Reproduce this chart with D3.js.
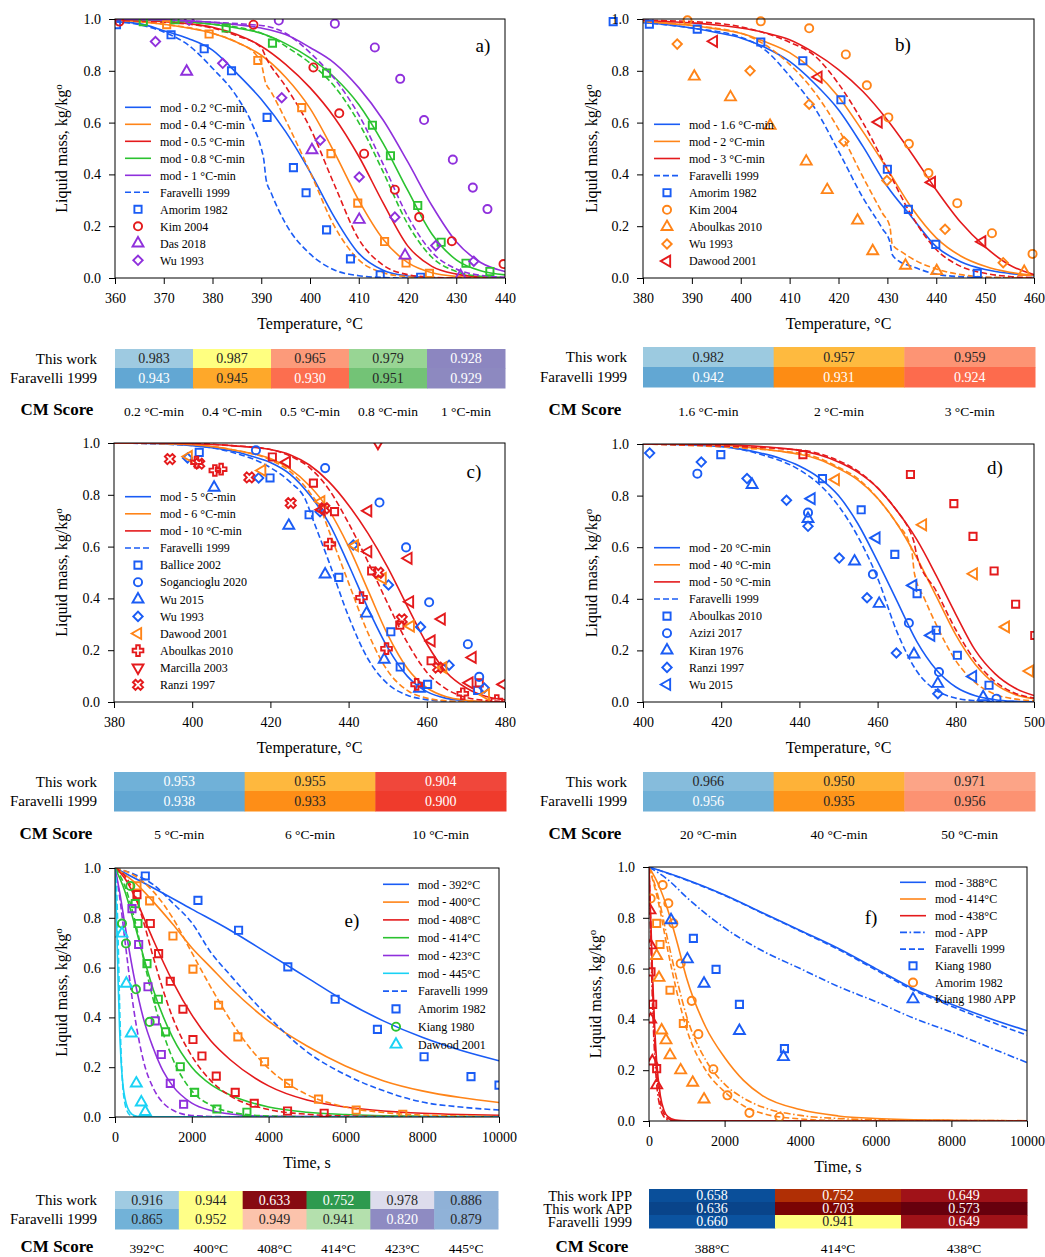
<!DOCTYPE html>
<html>
<head>
<meta charset="utf-8">
<script src="https://cdn.jsdelivr.net/npm/d3@7"></script>
<style>
  body { margin: 0; background: #fff; }
  svg { font-family: "Liberation Serif", "Times New Roman", serif; }
</style>
</head>
<body>
<svg id="chart" width="1045" height="1257"></svg>
<script>
// ---------- panel a : 0.2 - 1 C/min ----------
var aTemp   = [360,365,370,375,380,385,390,395,400,405,410,415,420,425,430,435,440];
var aMod02  = [0.99,0.982,0.955,0.925,0.88,0.79,0.69,0.565,0.41,0.235,0.095,0.03,0.008,0.002,0,0,0];
var aMod04  = [0.995,0.99,0.98,0.965,0.945,0.91,0.86,0.775,0.655,0.485,0.3,0.15,0.06,0.02,0.006,0.002,0];
var aMod05  = [0.997,0.995,0.99,0.982,0.968,0.94,0.895,0.825,0.735,0.62,0.47,0.29,0.125,0.045,0.015,0.005,0.002];
var aMod08  = [1,0.998,0.995,0.99,0.98,0.965,0.945,0.905,0.85,0.775,0.67,0.52,0.34,0.17,0.07,0.028,0.012];
var aMod1   = [1,0.999,0.997,0.993,0.987,0.978,0.965,0.94,0.89,0.83,0.735,0.61,0.45,0.28,0.14,0.06,0.025];
var aFar02  = [[360,0.99],[365,0.978],[370,0.95],[375,0.9],[380,0.81],[385,0.7],[388,0.6],[390,0.5],[390.5,0.46],[391,0.38],[392,0.33],[395,0.21],[400,0.093],[405,0.031],[410,0.009],[415,0.002],[420,0],[440,0]];
var aFar04  = [[360,0.995],[370,0.98],[380,0.945],[385,0.91],[389,0.86],[390,0.83],[390.8,0.76],[392,0.72],[395,0.61],[400,0.41],[405,0.2],[410,0.07],[415,0.02],[420,0.005],[425,0],[440,0]];
var aFar05  = [[360,0.995],[370,0.988],[380,0.965],[385,0.935],[390,0.89],[391,0.85],[395,0.74],[400,0.58],[405,0.36],[410,0.15],[415,0.05],[420,0.013],[425,0.003],[430,0],[440,0]];
var aFar08  = [[360,1],[380,0.98],[390,0.945],[393,0.92],[395,0.895],[400,0.83],[405,0.74],[410,0.6],[415,0.41],[420,0.21],[425,0.08],[430,0.025],[435,0.007],[440,0.002]];
var aFar1   = [[360,1],[390,0.975],[395,0.945],[400,0.87],[405,0.77],[410,0.63],[415,0.44],[420,0.24],[425,0.1],[430,0.035],[435,0.01],[440,0.003]];
var aAmorimBlue   = [[360.3,0.978],[371.5,0.939],[378.3,0.885],[383.9,0.8],[391.2,0.62],[396.6,0.426],[399.2,0.329],[403.4,0.186],[408.3,0.074],[414.4,0.012],[422.7,0.003]];
var aAmorimOrange = [[370.6,0.978],[379.3,0.942],[389.3,0.84],[398.3,0.658],[404.3,0.48],[409.8,0.289],[415.3,0.141],[419.7,0.058],[424.5,0.018]];
var aAmorimGreen  = [[365.8,0.99],[372.3,0.997],[382.8,0.965],[392.3,0.907],[403.4,0.791],[412.8,0.59],[416.5,0.472],[422.1,0.28],[426.9,0.138],[432,0.057],[436.9,0.025]];
var aKimRed       = [[360.9,0.99],[388.4,0.978],[400.7,0.813],[406,0.636],[411.1,0.48],[417.4,0.341],[422.4,0.235],[429.1,0.142],[439.7,0.054]];
var aKimPurple    = [[393.6,0.994],[405.1,0.982],[413.3,0.89],[418.5,0.769],[423.4,0.61],[429.3,0.457],[433.4,0.349],[436.4,0.266]];
var aDasPurple    = [[374.7,0.797],[400.4,0.494],[410.1,0.225],[419.5,0.087],[430.9,0.008]];
var aWuPurple     = [[368.3,0.913],[375.2,0.995],[382.1,0.829],[394.2,0.696],[402.1,0.532],[410.1,0.39],[417.4,0.235],[425.8,0.125],[433.6,0.065]];

// ---------- panel b : 1.6 - 3 C/min ----------
var bTemp   = [380,385,390,395,400,405,410,415,420,425,430,435,440,445,450,455,460];
var bMod16  = [0.987,0.978,0.965,0.948,0.927,0.89,0.836,0.753,0.65,0.508,0.353,0.235,0.121,0.063,0.033,0.018,0.009];
var bMod2   = [0.99,0.983,0.975,0.962,0.945,0.912,0.87,0.8,0.7,0.565,0.42,0.27,0.155,0.085,0.045,0.022,0.011];
var bMod3   = [0.995,0.99,0.985,0.977,0.965,0.947,0.92,0.87,0.805,0.72,0.61,0.48,0.34,0.215,0.12,0.05,0.013];
var bFar16  = [[380,0.987],[390,0.965],[400,0.93],[405,0.88],[410,0.78],[415,0.66],[420,0.49],[425,0.31],[429,0.19],[430.5,0.14],[431,0.09],[432,0.07],[435,0.045],[440,0.015],[445,0.005],[450,0.002],[460,0]];
var bFar2   = [[380,0.99],[390,0.975],[400,0.945],[405,0.9],[410,0.825],[415,0.72],[420,0.575],[425,0.39],[429,0.25],[430.5,0.2],[431,0.13],[433,0.1],[436,0.065],[440,0.035],[445,0.013],[450,0.004],[460,0]];
var bFar3   = [[380,0.995],[390,0.99],[400,0.97],[410,0.91],[415,0.86],[420,0.75],[425,0.6],[430,0.42],[435,0.24],[440,0.11],[445,0.045],[450,0.018],[455,0.006],[460,0.002]];
var bAmorimBlue     = [[373.9,0.99],[381.3,0.98],[391.1,0.961],[404.1,0.911],[412.7,0.839],[420.5,0.688],[430,0.42],[434.3,0.265],[439.9,0.13],[448.4,0.018]];
var bKimOrange      = [[389.1,0.995],[404.1,0.991],[414,0.964],[421.5,0.863],[425.8,0.744],[430.2,0.62],[434.4,0.518],[438.4,0.405],[444.3,0.289],[451.4,0.173],[459.7,0.093]];
var bAboulkasOrange = [[390.5,0.778],[397.9,0.698],[406,0.588],[413.4,0.45],[417.7,0.34],[423.9,0.222],[427,0.104],[433.7,0.048],[440.1,0.027],[458,0.024]];
var bWuOrange       = [[387,0.903],[401.9,0.8],[414,0.671],[421.1,0.527],[429.9,0.376],[441.8,0.188],[453.7,0.059]];
var bDawoodRed      = [[394.5,0.914],[415.9,0.776],[428.2,0.602],[439.1,0.369],[449.4,0.14]];

// ---------- panel c : 5 - 10 C/min ----------
var cTemp   = [380,385,390,395,400,405,410,415,420,425,430,435,440,445,450,455,460,465,470,475,480];
var cMod5   = [1,1,0.998,0.995,0.99,0.982,0.97,0.95,0.925,0.88,0.8,0.69,0.53,0.36,0.21,0.1,0.04,0.014,0.005,0.001,0];
var cMod6   = [1,1,0.999,0.997,0.993,0.986,0.975,0.96,0.94,0.9,0.835,0.74,0.6,0.43,0.26,0.13,0.055,0.02,0.007,0.002,0.001];
var cMod10  = [1,1,1,0.999,0.997,0.994,0.99,0.984,0.975,0.955,0.915,0.85,0.76,0.65,0.52,0.37,0.225,0.115,0.055,0.022,0.008];
var cFar5   = [[380,1],[400,0.99],[410,0.965],[420,0.905],[425,0.85],[429,0.78],[431,0.7],[435,0.54],[440,0.33],[445,0.165],[450,0.07],[455,0.026],[460,0.009],[465,0.003],[470,0],[480,0]];
var cFar6   = [[380,1],[400,0.993],[410,0.975],[420,0.935],[425,0.89],[430,0.81],[433,0.74],[435,0.66],[440,0.46],[445,0.265],[450,0.12],[455,0.045],[460,0.015],[465,0.005],[470,0.001],[480,0]];
var cFar10  = [[380,1],[400,0.998],[410,0.99],[420,0.975],[425,0.95],[430,0.905],[435,0.82],[440,0.69],[445,0.54],[450,0.38],[455,0.23],[460,0.115],[465,0.05],[470,0.018],[475,0.006],[480,0.002]];
var cBalliceBlue  = [[401.8,0.964],[419.9,0.865],[429.9,0.723],[437.5,0.481],[450.8,0.271],[453.2,0.135],[460.2,0.068],[473,0.045]];
var cBalliceRed   = [[420.5,0.946],[431,0.845],[436.4,0.735],[445.9,0.506],[453.1,0.297],[461.1,0.159],[473.4,0.074]];
var cSogancBlue   = [[416.3,0.972],[434,0.903],[447.9,0.77],[454.7,0.597],[460.6,0.385],[470.5,0.223],[473.4,0.097]];
var cWu15Blue     = [[405.6,0.828],[424.7,0.681],[434,0.493],[444.6,0.342],[449.1,0.164],[458.1,0.052]];
var cWu93Blue     = [[398.8,0.942],[417,0.865],[432.7,0.735],[441.2,0.606],[450.2,0.452],[458.4,0.29],[465.7,0.142],[474.7,0.054]];
var cDawoodOrange = [[399.1,0.948],[417.9,0.894],[433,0.774],[441.6,0.604],[448.7,0.477],[455.9,0.293],[464.2,0.133],[475.1,0.028]];
var cDawoodRed    = [[424.2,0.926],[433.1,0.742],[445,0.738],[445,0.581],[455.3,0.555],[455.7,0.387],[461.2,0.236],[463.8,0.32],[471.7,0.172],[470.9,0.074],[479.6,0.068]];
var cAboulkasRed  = [[401.1,0.926],[405.8,0.894],[407.4,0.899],[435.2,0.61],[443.3,0.403],[449.7,0.206],[457.4,0.068],[469.2,0.032],[477.9,0.006]];
var cMarcillaRed  = [[447.5,1.0]];
var cRanziRed     = [[394.3,0.938],[401.8,0.92],[414.6,0.867],[425.2,0.768],[433.8,0.748],[447.6,0.499],[453.6,0.319],[462.9,0.133]];

// ---------- panel d : 20 - 50 C/min ----------
var dTemp   = [400,405,410,415,420,425,430,435,440,445,450,455,460,465,470,475,480,485,490,495,500];
var dMod20  = [1,0.999,0.997,0.994,0.99,0.98,0.965,0.945,0.915,0.87,0.8,0.69,0.545,0.39,0.235,0.125,0.058,0.024,0.009,0.003,0.001];
var dMod40  = [1,1,0.999,0.998,0.996,0.99,0.982,0.972,0.96,0.94,0.905,0.86,0.79,0.69,0.56,0.41,0.26,0.145,0.07,0.03,0.013];
var dMod50  = [1,1,1,0.999,0.998,0.995,0.99,0.984,0.975,0.958,0.93,0.89,0.83,0.74,0.63,0.49,0.34,0.2,0.11,0.055,0.025];
var dFar20  = [[400,1],[420,0.99],[430,0.96],[440,0.9],[445,0.845],[450,0.76],[455,0.64],[460,0.48],[465,0.27],[470,0.12],[475,0.045],[480,0.015],[485,0.005],[490,0.002],[500,0]];
var dFar40  = [[400,1],[440,0.965],[450,0.91],[455,0.865],[460,0.79],[465,0.69],[468,0.62],[468.8,0.58],[469.4,0.5],[472,0.4],[475,0.3],[480,0.16],[485,0.075],[490,0.03],[495,0.012],[500,0.005]];
var dFar50  = [[400,1],[440,0.977],[450,0.935],[455,0.895],[460,0.83],[465,0.74],[468,0.67],[469.3,0.62],[470,0.57],[475,0.43],[480,0.28],[485,0.16],[490,0.08],[495,0.035],[500,0.015]];
var dAboulkasBlue = [[419.9,0.959],[445.9,0.866],[455.8,0.745],[464.4,0.572],[470.1,0.42],[475,0.278],[480.4,0.181],[488.5,0.065]];
var dAboulkasRed  = [[440.9,0.959],[468.4,0.882],[479.5,0.769],[484.4,0.642],[489.8,0.508],[495.3,0.379],[500.2,0.258]];
var dAziziBlue    = [[413.9,0.885],[442.2,0.734],[458.8,0.495],[468,0.306],[475.7,0.116],[490.4,0.013]];
var dKiranBlue    = [[427.9,0.842],[442.2,0.71],[454.1,0.545],[460.4,0.381],[469.3,0.185],[475.4,0.071],[487,0.019]];
var dRanziBlue    = [[401.7,0.965],[414.9,0.93],[426.6,0.866],[436.7,0.782],[442.2,0.681],[450.2,0.558],[457.3,0.404],[464.8,0.19],[475.4,0.032]];
var dWuBlue       = [[443.1,0.788],[459.7,0.636],[469.1,0.452],[473.7,0.258],[484.4,0.099]];
var dWuOrange     = [[449.3,0.862],[471.6,0.687],[484.6,0.497],[492.8,0.291],[498.9,0.12]];

// ---------- panel e : isothermal, time in s ----------
var eMod392 = [[0,1],[1000,0.92],[2000,0.835],[3000,0.75],[4000,0.655],[5000,0.56],[6000,0.465],[7000,0.385],[8000,0.32],[9000,0.268],[10000,0.226]];
var eFar392 = [[0,1],[500,0.975],[1000,0.933],[1500,0.86],[2000,0.78],[2500,0.66],[3000,0.57],[4000,0.402],[5000,0.262],[6000,0.17],[7000,0.105],[8000,0.06],[9000,0.04],[10000,0.028]];
var eMod400 = [[0,1],[500,0.944],[1000,0.864],[1500,0.775],[2000,0.68],[2500,0.6],[3000,0.52],[4000,0.385],[5000,0.285],[6000,0.205],[7000,0.145],[8000,0.105],[9000,0.078],[10000,0.058]];
var eFar400 = [[0,1],[500,0.97],[1000,0.905],[1500,0.8],[2000,0.66],[2500,0.52],[3000,0.39],[3500,0.28],[4000,0.195],[5000,0.09],[6000,0.04],[7000,0.018],[8000,0.008],[10000,0.002]];
var eMod408 = [[0,1],[250,0.96],[500,0.89],[750,0.8],[1000,0.71],[1500,0.545],[2000,0.41],[2500,0.305],[3000,0.23],[4000,0.125],[5000,0.068],[6000,0.04],[7000,0.024],[8000,0.015],[9000,0.01],[10000,0.007]];
var eFar408 = [[0,1],[250,0.97],[500,0.9],[750,0.78],[1000,0.64],[1500,0.4],[2000,0.245],[2500,0.145],[3000,0.085],[4000,0.03],[5000,0.011],[6000,0.004],[8000,0.001],[10000,0]];
var eMod414 = [[0,1],[250,0.91],[500,0.78],[750,0.64],[1000,0.51],[1500,0.32],[2000,0.2],[2500,0.13],[3000,0.088],[4000,0.04],[5000,0.019],[6000,0.01],[8000,0.003],[10000,0.001]];
var eFar414 = [[0,1],[250,0.93],[500,0.8],[750,0.63],[1000,0.47],[1500,0.235],[2000,0.105],[2500,0.047],[3000,0.02],[4000,0.004],[5000,0.001],[10000,0]];
var eMod423 = [[0,1],[125,0.9],[250,0.78],[500,0.56],[750,0.39],[1000,0.275],[1250,0.185],[1500,0.125],[2000,0.056],[2500,0.026],[3000,0.012],[4000,0.003],[10000,0]];
var eFar423 = [[0,1],[125,0.88],[250,0.72],[500,0.42],[750,0.22],[1000,0.115],[1250,0.057],[1500,0.028],[2000,0.006],[3000,0.001],[10000,0]];
var eMod445 = [[0,1],[40,0.8],[80,0.55],[120,0.35],[160,0.22],[200,0.14],[300,0.05],[400,0.018],[500,0.006],[700,0.001],[10000,0]];
var eFar445 = [[0,1],[40,0.92],[80,0.72],[120,0.45],[160,0.25],[200,0.13],[300,0.03],[400,0.007],[600,0],[10000,0]];
var eAmorim392 = [[789,0.968],[2160,0.87],[3218,0.75],[4501,0.603],[5733,0.473],[6834,0.352],[8049,0.242],[9271,0.162],[10000,0.128]];
var eAmorim400 = [[572,0.928],[902,0.868],[1509,0.727],[2030,0.594],[2697,0.449],[3200,0.322],[3894,0.222],[4519,0.135],[5300,0.072],[6280,0.028],[7494,0.011]];
var eAmorim408 = [[572,0.893],[919,0.777],[1136,0.656],[1440,0.545],[1769,0.433],[2030,0.311],[2264,0.245],[2637,0.164],[3131,0.099],[3626,0.055],[4493,0.024],[5447,0.015]];
var eAmorim414 = [[529,0.857],[598,0.777],[833,0.616],[1128,0.473],[1318,0.342],[1700,0.202],[2073,0.099],[2654,0.032],[3435,0.019]];
var eAmorim423 = [[442,0.837],[616,0.693],[859,0.523],[1049,0.386],[1206,0.251],[1440,0.135],[1787,0.051]];
var eKiang414  = [[182,0.777],[286,0.697],[399,0.928],[546,0.513],[902,0.382]];
var eDawood445 = [[182,0.737],[295,0.536],[425,0.336],[555,0.135],[685,0.059],[789,0.021]];

// ---------- panel f : isothermal IPP / APP ----------
var fMod388  = [[0,1],[1000,0.95],[2000,0.89],[3000,0.82],[4000,0.75],[5000,0.68],[6000,0.6],[7000,0.52],[8000,0.46],[9000,0.405],[10000,0.355]];
var fFar388  = [[0,1],[1000,0.948],[2000,0.888],[3000,0.818],[4000,0.748],[5000,0.676],[6000,0.595],[7000,0.515],[8000,0.452],[9000,0.393],[10000,0.338]];
var fApp388  = [[0,1],[500,0.95],[1000,0.88],[2000,0.76],[3000,0.67],[4000,0.6],[5000,0.53],[6000,0.47],[7000,0.405],[8000,0.35],[9000,0.29],[10000,0.23]];
var fMod414  = [[0,1],[250,0.93],[500,0.83],[750,0.7],[1000,0.56],[1500,0.37],[2000,0.25],[2500,0.16],[3000,0.1],[4000,0.045],[5000,0.02],[6000,0.01],[8000,0.003],[10000,0.001]];
var fFar414  = [[0,1],[250,0.86],[500,0.67],[750,0.5],[1000,0.36],[1500,0.2],[2000,0.115],[2500,0.06],[3000,0.03],[4000,0.008],[5000,0.002],[10000,0]];
var fApp414  = [[0,1],[250,0.88],[500,0.71],[750,0.55],[1000,0.41],[1500,0.24],[2000,0.145],[2500,0.09],[3000,0.055],[4000,0.022],[5000,0.01],[6000,0.005],[10000,0.001]];
var fMod438  = [[0,1],[50,0.78],[100,0.55],[150,0.37],[200,0.24],[300,0.1],[400,0.04],[500,0.017],[700,0.004],[1000,0.001],[10000,0]];
var fFar438  = [[0,1],[50,0.75],[100,0.5],[150,0.32],[200,0.2],[300,0.075],[400,0.028],[500,0.01],[700,0.002],[1000,0],[10000,0]];
var fApp438  = [[0,1],[50,0.7],[100,0.43],[150,0.26],[200,0.15],[300,0.05],[400,0.016],[500,0.005],[700,0.001],[1000,0],[10000,0]];
var fKiang388    = [[1174,0.719],[1774,0.597],[2392,0.459],[3583,0.285]];
var fKiang414    = [[203,0.778],[291,0.695],[556,0.515],[909,0.384]];
var fKiang438    = [[53,0.587],[97,0.459],[203,0.206]];
var fAmorim414   = [[44,0.876],[362,0.929],[512,0.857],[644,0.778],[838,0.62],[1130,0.473],[1306,0.342],[1703,0.204],[2074,0.101],[2657,0.032],[3451,0.016]];
var fKiangApp388 = [[583,0.791],[1015,0.637],[1456,0.541],[2392,0.355],[3557,0.252]];
var fKiangApp414 = [[203,0.65],[265,0.564],[335,0.357],[450,0.318],[556,0.259],[838,0.2],[1156,0.151],[1456,0.085]];
var fKiangApp438 = [[26,0.83],[44,0.692],[44,0.4],[88,0.235],[203,0.141]];

// ---------- CM score tables ----------
var aRateLabels = ["0.2 °C-min","0.4 °C-min","0.5 °C-min","0.8 °C-min","1 °C-min"];
var aScoreThis  = [0.983,0.987,0.965,0.979,0.928];
var aScoreFar   = [0.943,0.945,0.930,0.951,0.929];
var bRateLabels = ["1.6 °C-min","2 °C-min","3 °C-min"];
var bScoreThis  = [0.982,0.957,0.959];
var bScoreFar   = [0.942,0.931,0.924];
var cRateLabels = ["5 °C-min","6 °C-min","10 °C-min"];
var cScoreThis  = [0.953,0.955,0.904];
var cScoreFar   = [0.938,0.933,0.900];
var dRateLabels = ["20 °C-min","40 °C-min","50 °C-min"];
var dScoreThis  = [0.966,0.950,0.971];
var dScoreFar   = [0.956,0.935,0.956];
var eTempLabels = ["392°C","400°C","408°C","414°C","423°C","445°C"];
var eScoreThis  = [0.916,0.944,0.633,0.752,0.978,0.886];
var eScoreFar   = [0.865,0.952,0.949,0.941,0.820,0.879];
var fTempLabels = ["388°C","414°C","438°C"];
var fScoreIPP   = [0.658,0.752,0.649];
var fScoreAPP   = [0.636,0.703,0.573];
var fScoreFar   = [0.660,0.941,0.649];

// cell colours (style only)
var aFill = [["#9ecae1","#ffff80","#fc9a7a","#98d594","#8c86c0"],["#62a7d3","#fea82a","#fc6e4f","#73c376","#8d89c0"]];
var aInk  = [["d","d","d","d","w"],["w","d","w","d","w"]];
var bFill = [["#9ccae0","#feba3f","#fd9474"],["#62a7d3","#fd8c14","#fd6b4d"]];
var bInk  = [["d","d","d"],["w","w","w"]];
var cFill = [["#70b1d8","#feb83e","#f0473b"],["#62a7d3","#fe8e17","#ef3b2c"]];
var cInk  = [["w","d","w"],["w","d","w"]];
var dFill = [["#86bcdc","#feb238","#fca487"],["#6fb0d7","#fe951a","#fc9272"]];
var dInk  = [["d","d","d"],["w","d","d"]];
var eFill = [["#a0cbe2","#ffff88","#870a12","#2e9a4e","#dddcec","#8fb1d7"],["#72b2d8","#ffff88","#fcc3ac","#b4e0ad","#8e8bc2","#90b2d8"]];
var eInk  = [["d","d","w","w","d","d"],["d","d","d","d","w","d"]];
var fFill = [["#0a4f9a","#b02f05","#a01218"],["#09448a","#7a0404","#67000d"],["#0b53a0","#ffff80","#a01218"]];
var fInk  = [["w","w","w"],["w","w","w"],["w","d","w"]];

var BLUE = "#1a5cf5", ORANGE = "#ff8418", RED = "#e41a1c", GREEN = "#2bc230",
    PURPLE = "#8f30dc", CYAN = "#1ad2f5";
var DASH = "6,3", DASHDOT = "7,2.5,1.6,2.5";

var svg = d3.select("#chart");

var SHAPES = {
  square:  {type: d3.symbolSquare,   size: 52, rot: 0},
  circle:  {type: d3.symbolCircle,   size: 52, rot: 0},
  triUp:   {type: d3.symbolTriangle, size: 52, rot: 0},
  triDown: {type: d3.symbolTriangle, size: 52, rot: 180},
  triLeft: {type: d3.symbolTriangle, size: 52, rot: -90},
  diamond: {type: d3.symbolSquare,   size: 44, rot: 45},
  plus:    {type: d3.symbolCross,    size: 64, rot: 0},
  cross:   {type: d3.symbolCross,    size: 64, rot: 45}
};

function addMarker(g, shape, cx, cy, color) {
  var s = SHAPES[shape];
  g.append("path")
    .attr("d", d3.symbol(s.type, s.size)())
    .attr("transform", "translate(" + cx + "," + cy + ") rotate(" + s.rot + ")")
    .attr("fill", "none")
    .attr("stroke", color)
    .attr("stroke-width", 1.9);
}

var panels = [
  {id: "a", left: 115, right: 505, top: 19, bottom: 278, xdom: [360, 440], xticks: d3.range(360, 441, 10),
   xlabel: "Temperature, °C", ylabelX: 67, tag: "a)", tagX: 483, tagY: 45, clip: true,
   curves: [
     {x: aTemp, y: aMod02, color: BLUE}, {x: aTemp, y: aMod04, color: ORANGE}, {x: aTemp, y: aMod05, color: RED},
     {x: aTemp, y: aMod08, color: GREEN}, {x: aTemp, y: aMod1, color: PURPLE},
     {pts: aFar02, color: BLUE, dash: DASH}, {pts: aFar04, color: ORANGE, dash: DASH}, {pts: aFar05, color: RED, dash: DASH},
     {pts: aFar08, color: GREEN, dash: DASH}, {pts: aFar1, color: PURPLE, dash: DASH}],
   points: [
     {data: aAmorimBlue, shape: "square", color: BLUE}, {data: aAmorimOrange, shape: "square", color: ORANGE},
     {data: aAmorimGreen, shape: "square", color: GREEN}, {data: aKimRed, shape: "circle", color: RED},
     {data: aKimPurple, shape: "circle", color: PURPLE}, {data: aDasPurple, shape: "triUp", color: PURPLE},
     {data: aWuPurple, shape: "diamond", color: PURPLE}],
   legendX: 125, legendY: 107.3, legendDy: 17,
   legend: [
     {color: BLUE, label: "mod - 0.2 °C-min"}, {color: ORANGE, label: "mod - 0.4 °C-min"},
     {color: RED, label: "mod - 0.5 °C-min"}, {color: GREEN, label: "mod - 0.8 °C-min"},
     {color: PURPLE, label: "mod - 1 °C-min"}, {color: BLUE, dash: DASH, label: "Faravelli 1999"},
     {shape: "square", color: BLUE, label: "Amorim 1982"}, {shape: "circle", color: RED, label: "Kim 2004"},
     {shape: "triUp", color: PURPLE, label: "Das 2018"}, {shape: "diamond", color: PURPLE, label: "Wu 1993"}]},
  {id: "b", left: 643, right: 1034, top: 19, bottom: 278, xdom: [380, 460], xticks: d3.range(380, 461, 10),
   xlabel: "Temperature, °C", ylabelX: 597, tag: "b)", tagX: 903, tagY: 44, clip: false,
   curves: [
     {x: bTemp, y: bMod16, color: BLUE}, {x: bTemp, y: bMod2, color: ORANGE}, {x: bTemp, y: bMod3, color: RED},
     {pts: bFar16, color: BLUE, dash: DASH}, {pts: bFar2, color: ORANGE, dash: DASH}, {pts: bFar3, color: RED, dash: DASH}],
   points: [
     {data: bAmorimBlue, shape: "square", color: BLUE}, {data: bKimOrange, shape: "circle", color: ORANGE},
     {data: bAboulkasOrange, shape: "triUp", color: ORANGE}, {data: bWuOrange, shape: "diamond", color: ORANGE},
     {data: bDawoodRed, shape: "triLeft", color: RED}],
   legendX: 654, legendY: 124.3, legendDy: 17.1,
   legend: [
     {color: BLUE, label: "mod - 1.6 °C-min"}, {color: ORANGE, label: "mod - 2 °C-min"},
     {color: RED, label: "mod - 3 °C-min"}, {color: BLUE, dash: DASH, label: "Faravelli 1999"},
     {shape: "square", color: BLUE, label: "Amorim 1982"}, {shape: "circle", color: ORANGE, label: "Kim 2004"},
     {shape: "triUp", color: ORANGE, label: "Aboulkas 2010"}, {shape: "diamond", color: ORANGE, label: "Wu 1993"},
     {shape: "triLeft", color: RED, label: "Dawood 2001"}]},
  {id: "c", left: 114, right: 505, top: 443, bottom: 702, xdom: [380, 480], xticks: d3.range(380, 481, 20),
   xlabel: "Temperature, °C", ylabelX: 67, tag: "c)", tagX: 474, tagY: 471, clip: true,
   curves: [
     {x: cTemp, y: cMod5, color: BLUE}, {x: cTemp, y: cMod6, color: ORANGE}, {x: cTemp, y: cMod10, color: RED},
     {pts: cFar5, color: BLUE, dash: DASH}, {pts: cFar6, color: ORANGE, dash: DASH}, {pts: cFar10, color: RED, dash: DASH}],
   points: [
     {data: cBalliceBlue, shape: "square", color: BLUE}, {data: cBalliceRed, shape: "square", color: RED},
     {data: cSogancBlue, shape: "circle", color: BLUE}, {data: cWu15Blue, shape: "triUp", color: BLUE},
     {data: cWu93Blue, shape: "diamond", color: BLUE}, {data: cDawoodOrange, shape: "triLeft", color: ORANGE},
     {data: cDawoodRed, shape: "triLeft", color: RED}, {data: cAboulkasRed, shape: "plus", color: RED},
     {data: cMarcillaRed, shape: "triDown", color: RED}, {data: cRanziRed, shape: "cross", color: RED}],
   legendX: 125, legendY: 496.7, legendDy: 17.1,
   legend: [
     {color: BLUE, label: "mod - 5 °C-min"}, {color: ORANGE, label: "mod - 6 °C-min"},
     {color: RED, label: "mod - 10 °C-min"}, {color: BLUE, dash: DASH, label: "Faravelli 1999"},
     {shape: "square", color: BLUE, label: "Ballice 2002"}, {shape: "circle", color: BLUE, label: "Sogancioglu 2020"},
     {shape: "triUp", color: BLUE, label: "Wu 2015"}, {shape: "diamond", color: BLUE, label: "Wu 1993"},
     {shape: "triLeft", color: ORANGE, label: "Dawood 2001"}, {shape: "plus", color: RED, label: "Aboulkas 2010"},
     {shape: "triDown", color: RED, label: "Marcilla 2003"}, {shape: "cross", color: RED, label: "Ranzi 1997"}]},
  {id: "d", left: 643, right: 1034, top: 444, bottom: 702, xdom: [400, 500], xticks: d3.range(400, 501, 20),
   xlabel: "Temperature, °C", ylabelX: 597, tag: "d)", tagX: 995, tagY: 467, clip: true,
   curves: [
     {x: dTemp, y: dMod20, color: BLUE}, {x: dTemp, y: dMod40, color: ORANGE}, {x: dTemp, y: dMod50, color: RED},
     {pts: dFar20, color: BLUE, dash: DASH}, {pts: dFar40, color: ORANGE, dash: DASH}, {pts: dFar50, color: RED, dash: DASH}],
   points: [
     {data: dAboulkasBlue, shape: "square", color: BLUE}, {data: dAboulkasRed, shape: "square", color: RED},
     {data: dAziziBlue, shape: "circle", color: BLUE}, {data: dKiranBlue, shape: "triUp", color: BLUE},
     {data: dRanziBlue, shape: "diamond", color: BLUE}, {data: dWuBlue, shape: "triLeft", color: BLUE},
     {data: dWuOrange, shape: "triLeft", color: ORANGE}],
   legendX: 654, legendY: 547.7, legendDy: 17.1,
   legend: [
     {color: BLUE, label: "mod - 20 °C-min"}, {color: ORANGE, label: "mod - 40 °C-min"},
     {color: RED, label: "mod - 50 °C-min"}, {color: BLUE, dash: DASH, label: "Faravelli 1999"},
     {shape: "square", color: BLUE, label: "Aboulkas 2010"}, {shape: "circle", color: BLUE, label: "Azizi 2017"},
     {shape: "triUp", color: BLUE, label: "Kiran 1976"}, {shape: "diamond", color: BLUE, label: "Ranzi 1997"},
     {shape: "triLeft", color: BLUE, label: "Wu 2015"}]},
  {id: "e", left: 115, right: 499, top: 868, bottom: 1117, xdom: [0, 10000], xticks: d3.range(0, 10001, 2000),
   xlabel: "Time, s", ylabelX: 67, tag: "e)", tagX: 352, tagY: 920, clip: true,
   curves: [
     {pts: eMod392, color: BLUE}, {pts: eMod400, color: ORANGE}, {pts: eMod408, color: RED},
     {pts: eMod414, color: GREEN}, {pts: eMod423, color: PURPLE}, {pts: eMod445, color: CYAN},
     {pts: eFar392, color: BLUE, dash: DASH}, {pts: eFar400, color: ORANGE, dash: DASH}, {pts: eFar408, color: RED, dash: DASH},
     {pts: eFar414, color: GREEN, dash: DASH}, {pts: eFar423, color: PURPLE, dash: DASH}, {pts: eFar445, color: CYAN, dash: DASH}],
   points: [
     {data: eAmorim392, shape: "square", color: BLUE}, {data: eAmorim400, shape: "square", color: ORANGE},
     {data: eAmorim408, shape: "square", color: RED}, {data: eAmorim414, shape: "square", color: GREEN},
     {data: eAmorim423, shape: "square", color: PURPLE}, {data: eKiang414, shape: "circle", color: GREEN},
     {data: eDawood445, shape: "triUp", color: CYAN}],
   legendX: 383, legendY: 884.3, legendDy: 17.8,
   legend: [
     {color: BLUE, label: "mod - 392°C"}, {color: ORANGE, label: "mod - 400°C"}, {color: RED, label: "mod - 408°C"},
     {color: GREEN, label: "mod - 414°C"}, {color: PURPLE, label: "mod - 423°C"}, {color: CYAN, label: "mod - 445°C"},
     {color: BLUE, dash: DASH, label: "Faravelli 1999"}, {shape: "square", color: BLUE, label: "Amorim 1982"},
     {shape: "circle", color: GREEN, label: "Kiang 1980"}, {shape: "triUp", color: CYAN, label: "Dawood 2001"}]},
  {id: "f", left: 649, right: 1027, top: 867, bottom: 1121, xdom: [0, 10000], xticks: d3.range(0, 10001, 2000),
   xlabel: "Time, s", ylabelX: 601, tag: "f)", tagX: 871, tagY: 917, clip: true,
   curves: [
     {pts: fMod388, color: BLUE}, {pts: fMod414, color: ORANGE}, {pts: fMod438, color: RED},
     {pts: fApp388, color: BLUE, dash: DASHDOT}, {pts: fApp414, color: ORANGE, dash: DASHDOT}, {pts: fApp438, color: RED, dash: DASHDOT},
     {pts: fFar388, color: BLUE, dash: DASH}, {pts: fFar414, color: ORANGE, dash: DASH}, {pts: fFar438, color: RED, dash: DASH}],
   points: [
     {data: fKiang388, shape: "square", color: BLUE}, {data: fKiang414, shape: "square", color: ORANGE},
     {data: fKiang438, shape: "square", color: RED}, {data: fAmorim414, shape: "circle", color: ORANGE},
     {data: fKiangApp388, shape: "triUp", color: BLUE}, {data: fKiangApp414, shape: "triUp", color: ORANGE},
     {data: fKiangApp438, shape: "triUp", color: RED}],
   legendX: 900, legendY: 882.3, legendDy: 16.7,
   legend: [
     {color: BLUE, label: "mod - 388°C"}, {color: ORANGE, label: "mod - 414°C"}, {color: RED, label: "mod - 438°C"},
     {color: BLUE, dash: DASHDOT, label: "mod - APP"}, {color: BLUE, dash: DASH, label: "Faravelli 1999"},
     {shape: "square", color: BLUE, label: "Kiang 1980"}, {shape: "circle", color: ORANGE, label: "Amorim 1982"},
     {shape: "triUp", color: BLUE, label: "Kiang 1980 APP"}]}
];

function drawPanel(p) {
  var x = d3.scaleLinear().domain(p.xdom).range([p.left, p.right]);
  var y = d3.scaleLinear().domain([0, 1]).range([p.bottom, p.top]);
  var clipId = "clip-" + p.id;
  svg.append("clipPath").attr("id", clipId).append("rect")
    .attr("x", p.left).attr("y", p.top)
    .attr("width", p.right - p.left).attr("height", p.bottom - p.top);

  var g = svg.append("g");
  var line = d3.line().x(function(d) { return x(d[0]); }).y(function(d) { return y(d[1]); })
    .curve(d3.curveMonotoneX);

  var curveLayer = g.append("g").attr("clip-path", "url(#" + clipId + ")");
  p.curves.forEach(function(c) {
    var pts = c.pts || c.x.map(function(t, i) { return [t, c.y[i]]; });
    curveLayer.append("path")
      .attr("d", line(pts))
      .attr("fill", "none")
      .attr("stroke", c.color)
      .attr("stroke-width", 1.6)
      .attr("stroke-dasharray", c.dash || null);
  });

  var pointLayer = g.append("g");
  if (p.clip) pointLayer.attr("clip-path", "url(#" + clipId + ")");
  p.points.forEach(function(s) {
    s.data.forEach(function(d) { addMarker(pointLayer, s.shape, x(d[0]), y(d[1]), s.color); });
  });

  // axes
  var xa = g.append("g").attr("transform", "translate(0," + p.bottom + ")")
    .call(d3.axisBottom(x).tickValues(p.xticks).tickSize(6).tickPadding(9).tickFormat(d3.format("d")));
  var ya = g.append("g").attr("transform", "translate(" + p.left + ",0)")
    .call(d3.axisLeft(y).tickValues([0, 0.2, 0.4, 0.6, 0.8, 1.0]).tickSize(6).tickPadding(8).tickFormat(d3.format(".1f")));
  [xa, ya].forEach(function(a) {
    a.attr("font-family", null).attr("font-size", 14);
    a.select(".domain").remove();
  });
  g.append("rect")
    .attr("x", p.left).attr("y", p.top)
    .attr("width", p.right - p.left).attr("height", p.bottom - p.top)
    .attr("fill", "none").attr("stroke", "#000").attr("stroke-width", 1);

  // axis titles
  g.append("text")
    .attr("x", (p.left + p.right) / 2).attr("y", p.bottom + 51)
    .attr("text-anchor", "middle").attr("font-size", 16).text(p.xlabel);
  var yl = g.append("text")
    .attr("transform", "translate(" + p.ylabelX + "," + ((p.top + p.bottom) / 2) + ") rotate(-90)")
    .attr("text-anchor", "middle").attr("font-size", 16);
  yl.append("tspan").text("Liquid mass, kg/kg");
  yl.append("tspan").attr("dy", "-0.45em").attr("font-size", 11).text("o");

  // panel tag
  g.append("text")
    .attr("x", p.tagX).attr("y", p.tagY).attr("dy", "0.35em")
    .attr("text-anchor", "middle").attr("font-size", 19).text(p.tag);

  // legend
  p.legend.forEach(function(e, i) {
    var ly = p.legendY + i * p.legendDy;
    if (e.shape) {
      addMarker(g, e.shape, p.legendX + 13, ly, e.color);
    } else {
      g.append("line")
        .attr("x1", p.legendX).attr("x2", p.legendX + 26)
        .attr("y1", ly).attr("y2", ly)
        .attr("stroke", e.color).attr("stroke-width", 1.6)
        .attr("stroke-dasharray", e.dash || null);
    }
    g.append("text")
      .attr("x", p.legendX + 35).attr("y", ly).attr("dy", "0.35em")
      .attr("font-size", 12).text(e.label);
  });
}

panels.forEach(drawPanel);

// ---------- tables ----------
var tables = [
  {left: 115, right: 505, rows: [349, 368, 388], labelX: 97, names: ["This work", "Faravelli 1999"],
   values: [aScoreThis, aScoreFar], fill: aFill, ink: aInk, cols: aRateLabels, colY: 411, cmX: 57, cmY: 409},
  {left: 643, right: 1035, rows: [347, 367, 387], labelX: 627, names: ["This work", "Faravelli 1999"],
   values: [bScoreThis, bScoreFar], fill: bFill, ink: bInk, cols: bRateLabels, colY: 411, cmX: 585, cmY: 409},
  {left: 114, right: 506, rows: [772, 791, 811], labelX: 97, names: ["This work", "Faravelli 1999"],
   values: [cScoreThis, cScoreFar], fill: cFill, ink: cInk, cols: cRateLabels, colY: 834, cmX: 56, cmY: 833},
  {left: 643, right: 1035, rows: [772, 791, 811], labelX: 627, names: ["This work", "Faravelli 1999"],
   values: [dScoreThis, dScoreFar], fill: dFill, ink: dInk, cols: dRateLabels, colY: 834, cmX: 585, cmY: 833},
  {left: 115, right: 498, rows: [1191, 1209, 1229], labelX: 97, names: ["This work", "Faravelli 1999"],
   values: [eScoreThis, eScoreFar], fill: eFill, ink: eInk, cols: eTempLabels, colY: 1248, cmX: 57, cmY: 1246},
  {left: 649, right: 1027, rows: [1189, 1202, 1215, 1228], labelX: 632, names: ["This work IPP", "This work APP", "Faravelli 1999"],
   values: [fScoreIPP, fScoreAPP, fScoreFar], fill: fFill, ink: fInk, cols: fTempLabels, colY: 1248, cmX: 592, cmY: 1246}
];

function drawTable(t) {
  var g = svg.append("g");
  var x = d3.scaleBand().domain(d3.range(t.cols.length)).range([t.left, t.right]);
  t.values.forEach(function(row, ri) {
    var y0 = t.rows[ri], y1 = t.rows[ri + 1];
    row.forEach(function(v, ci) {
      g.append("rect")
        .attr("x", x(ci)).attr("y", y0)
        .attr("width", x.bandwidth() + 0.5).attr("height", y1 - y0 + 0.5)
        .attr("fill", t.fill[ri][ci]);
    });
  });
  t.values.forEach(function(row, ri) {
    var ym = (t.rows[ri] + t.rows[ri + 1]) / 2;
    row.forEach(function(v, ci) {
      g.append("text")
        .attr("x", x(ci) + x.bandwidth() / 2).attr("y", ym).attr("dy", "0.35em")
        .attr("text-anchor", "middle").attr("font-size", 14)
        .attr("fill", t.ink[ri][ci] === "w" ? "#fff" : "#262626")
        .text(d3.format(".3f")(v));
    });
    g.append("text")
      .attr("x", t.labelX).attr("y", ym).attr("dy", "0.35em")
      .attr("text-anchor", "end").attr("font-size", t.names.length > 2 ? 14.5 : 15).text(t.names[ri]);
  });
  g.append("text")
    .attr("x", t.cmX).attr("y", t.cmY).attr("dy", "0.35em")
    .attr("text-anchor", "middle").attr("font-size", 17).attr("font-weight", "bold").text("CM Score");
  t.cols.forEach(function(c, ci) {
    g.append("text")
      .attr("x", x(ci) + x.bandwidth() / 2).attr("y", t.colY).attr("dy", "0.35em")
      .attr("text-anchor", "middle").attr("font-size", 13.5).text(c);
  });
}

tables.forEach(drawTable);
</script>
</body>
</html>
